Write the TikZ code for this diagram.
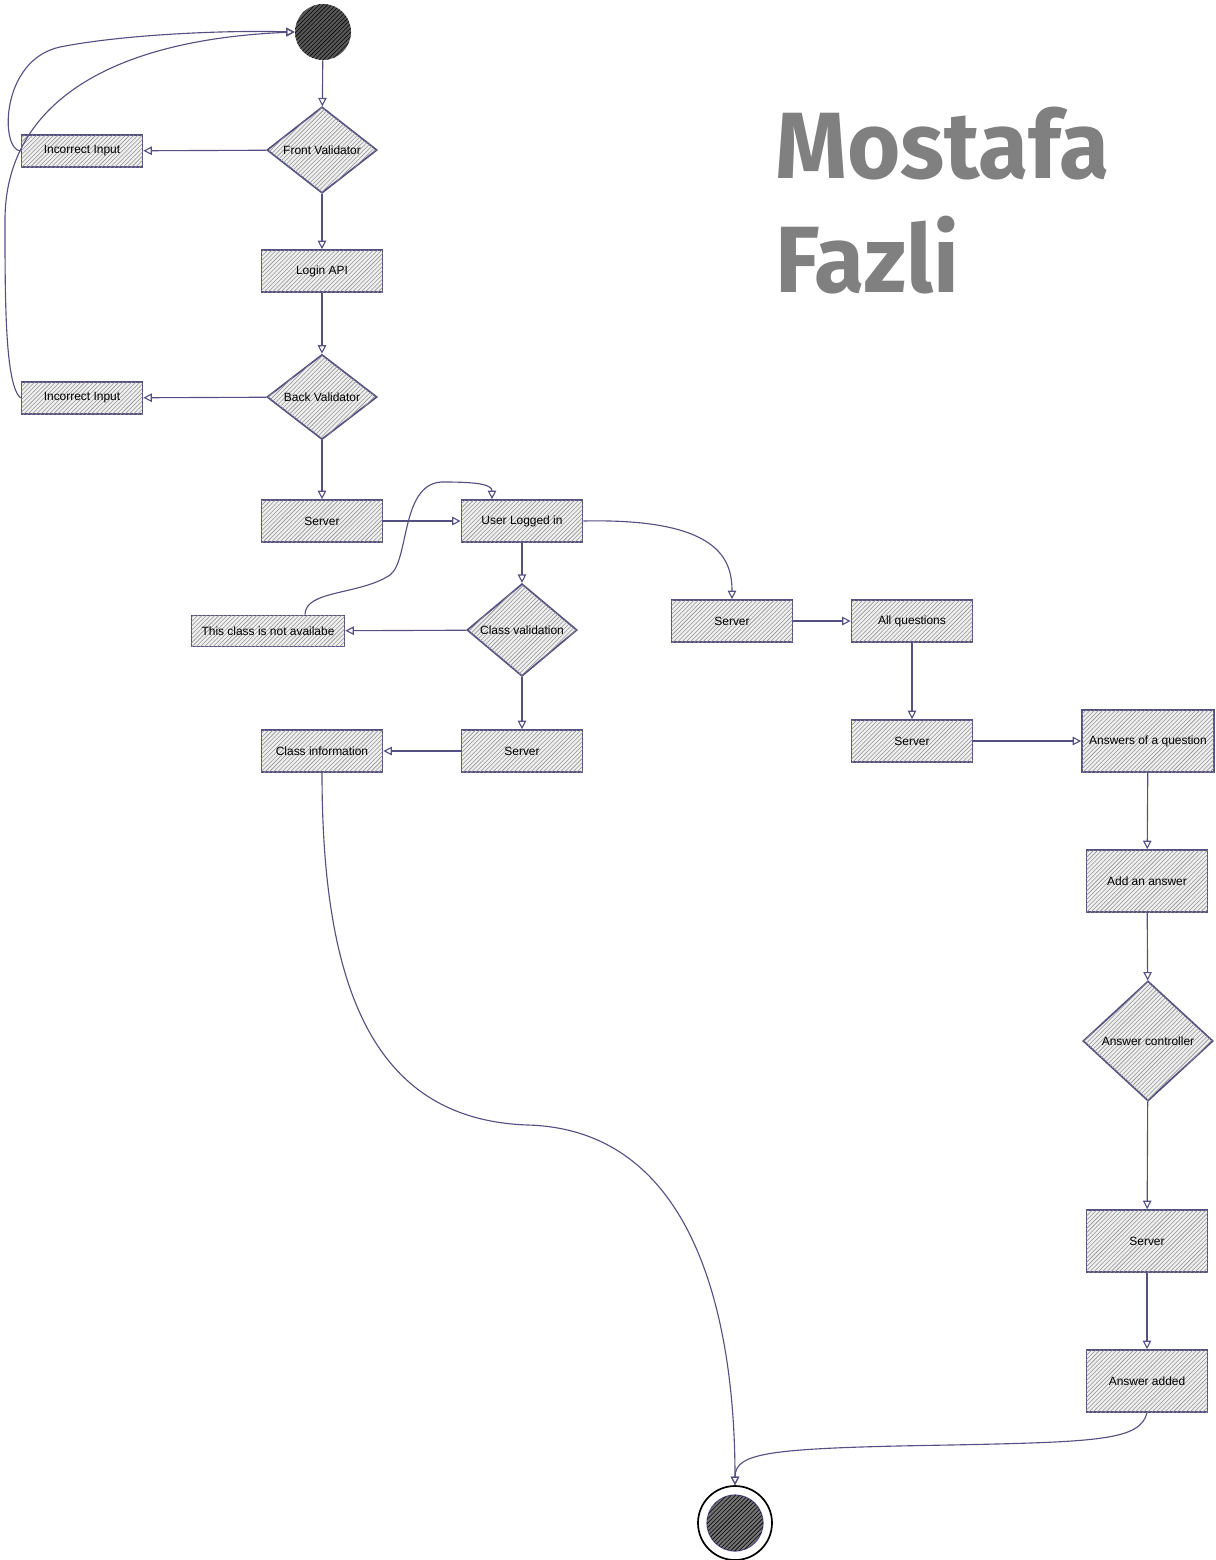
\documentclass[tikz,border=0pt]{standalone}
\usepackage{graphicx}
\usepackage{fontspec}
\setmainfont{Liberation Sans}
\newfontfamily\namefont{Fira Sans}
\usetikzlibrary{arrows.meta,shapes.geometric,patterns}
\definecolor{ink}{RGB}{84,80,130}
\definecolor{namegray}{RGB}{128,128,128}

\begin{document}
\begin{tikzpicture}[x=0.025cm, y=-0.025cm,
  font=\fontsize{8.5}{10}\selectfont,
  hatch/.style={fill=gray!12, postaction={pattern=north east lines, pattern color=gray!85}},
  box/.style={rectangle, draw=ink, line width=1.2pt, hatch,
    minimum width=3.025cm, minimum height=1.05cm, inner sep=1pt},
  choice/.style={diamond, draw=ink, line width=1.2pt, hatch,
    minimum width=2.75cm, minimum height=2cm, inner sep=0pt},
  flow/.style={draw=ink, line width=0.8pt, -{Triangle[open, length=6pt, width=6pt]}},
  nametext/.style={anchor=base west, inner sep=0pt, text=namegray,
    font=\namefont\bfseries\fontsize{67}{75}\selectfont},
]
  \useasboundingbox (0,0) rectangle (1216,1560);

  % Start
  \node[circle, minimum size=1.4cm, fill=black!65,
    postaction={pattern=north east lines}] (start) at (323,32) {};

  % Login
  \node[choice] (fv) at (322,150) {Front Validator};
  \node[box, minimum height=0.8cm] (ii1) at (82,151) {Incorrect Input};
  \node[box] (login) at (322,271) {Login API};
  \node[choice] (bv) at (322,397) {Back Validator};
  \node[box, minimum height=0.8cm] (ii2) at (82,398) {Incorrect Input};
  \node[box] (srv1) at (322,521) {Server};
  \node[box] (uli) at (522,521) {User Logged in};

  % Class branch
  \node[choice] (cv) at (522,630) {Class validation};
  \node[box, minimum width=3.825cm, minimum height=0.78cm] (nav) at (268,631)
    {This class is not availabe};
  \node[box] (srv2) at (522,751) {Server};
  \node[box] (cinfo) at (322,751) {Class information};

  % Question branch
  \node[box] (srv3) at (732,621) {Server};
  \node[box] (allq) at (912,621) {All questions};
  \node[box] (srv4) at (912,741) {Server};
  \node[box, minimum width=3.3cm, minimum height=1.55cm] (ansq) at (1148,741)
    {Answers of a question};
  \node[box, minimum height=1.55cm] (adda) at (1147,881) {Add an answer};
  \node[choice, minimum width=3.25cm, minimum height=3cm] (actl) at (1148,1041)
    {Answer controller};
  \node[box, minimum height=1.55cm] (srv5) at (1147,1241) {Server};
  \node[box, minimum height=1.55cm] (added) at (1147,1381) {Answer added};

  % End
  \node[circle, draw=black, line width=1.2pt, minimum size=1.85cm] (stop) at (735,1523) {};
  \draw[ink, line width=0.8pt, fill=black!55, postaction={pattern=north east lines}]
    (stop.center) circle (0.7cm);

  % Name
  \node[nametext] (first) at (775,178) {\scalebox{0.97}[1]{Mostafa}};
  \node[nametext] (last) at (775,292) {\scalebox{0.97}[1]{Fazli}};

  % Connectors
  \draw[flow] (start) -- (fv);
  \draw[flow] (fv) -- (ii1);
  \draw[flow] (fv) -- (login);
  \draw[flow] (login) -- (bv);
  \draw[flow] (bv) -- (ii2);
  \draw[flow] (bv) -- (srv1);
  \draw[flow] (srv1) -- (uli);
  \draw[flow] (ii1.west) .. controls (0,150) and (0,60) .. (60,47)
    .. controls (120,35) and (220,30) .. (start.west);
  \draw[flow] (ii2.west) .. controls (5,385) and (5,300) .. (5,220)
    .. controls (5,110) and (100,40) .. (start.west);

  \draw[flow] (uli) -- (cv);
  \draw[flow] (cv) -- (nav);
  \draw[flow] ([xshift=0.925cm]nav.north) .. controls (305,590) and (360,595) .. (390,575)
    .. controls (410,560) and (400,480) .. (445,482)
    .. controls (480,482) and (492,485) .. ([xshift=-0.75cm]uli.north);
  \draw[flow] (cv) -- (srv2);
  \draw[flow] (srv2) -- (cinfo);
  \draw[flow] (cinfo.south) .. controls (322,1000) and (380,1120) .. (528,1125)
    .. controls (700,1130) and (735,1330) .. (stop.north);

  \draw[flow] (uli.east) .. controls (720,518) and (732,560) .. (srv3.north);
  \draw[flow] (srv3) -- (allq);
  \draw[flow] (allq) -- (srv4);
  \draw[flow] (srv4) -- (ansq);
  \draw[flow] (ansq) -- (adda);
  \draw[flow] (adda) -- (actl);
  \draw[flow] (actl) -- (srv5);
  \draw[flow] (srv5) -- (added);
  \draw[flow] (added.south) .. controls (1140,1440) and (1100,1442) .. (950,1445)
    .. controls (770,1448) and (735,1452) .. (stop.north);
\end{tikzpicture}
\end{document}
